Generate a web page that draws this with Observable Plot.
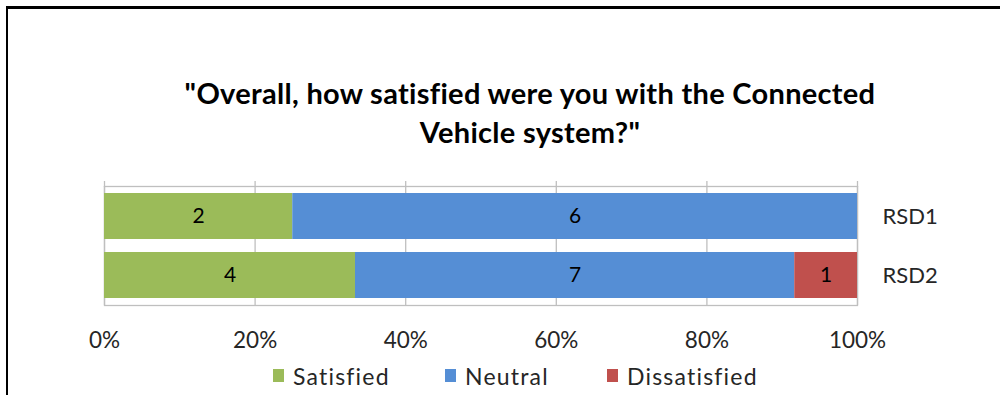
<!DOCTYPE html>
<html>
<head>
<meta charset="utf-8">
<script src="https://cdn.jsdelivr.net/npm/d3@7"></script>
<script src="https://cdn.jsdelivr.net/npm/@observablehq/plot@0.6"></script>
<style>
  html, body { margin: 0; padding: 0; background: #fff; }
  #wrap { position: relative; width: 1000px; height: 395px; overflow: hidden; font-family: Lato, "Open Sans", sans-serif; }
  #frameTop { position: absolute; left: 6px; top: 6px; width: 1000px; height: 3px; background: #000; }
  #frameLeft { position: absolute; left: 6px; top: 6px; width: 2px; height: 400px; background: #000; }
  #title { position: absolute; left: 80px; width: 900px; top: 72.5px; text-align: center; font-weight: bold; font-size: 29px; letter-spacing: 0.3px; line-height: 39px; color: #000; }
  #legend { position: absolute; top: 361.5px; left: 0; width: 1000px; height: 28px; font-size: 23px; letter-spacing: 1.2px; color: #262626; }
  .li { position: absolute; top: 0; display: flex; align-items: center; height: 28px; white-space: nowrap; }
  .sw { width: 11px; height: 13px; margin-right: 9px; }
  #chart { position: absolute; left: 0; top: 0; }
</style>
</head>
<body>
<div id="wrap">
  <div id="chart"></div>
  <div id="frameTop"></div>
  <div id="frameLeft"></div>
  <div id="title">"Overall, how satisfied were you with the Connected<br>Vehicle system?"</div>
  <div id="legend"></div>
</div>
<script>
const groups = ["RSD1", "RSD2"];
const categories = ["Satisfied", "Neutral", "Dissatisfied"];
const colors = ["#9BBB59", "#558ED5", "#C0504D"];
const satisfied = [2, 4];
const neutral = [6, 7];
const dissatisfied = [0, 1];
const xTicks = [0, 0.2, 0.4, 0.6, 0.8, 1];
const legendX = [273, 445, 607];

const series = [satisfied, neutral, dissatisfied];
const data = [];
groups.forEach((g, gi) => {
  categories.forEach((c, ci) => {
    data.push({group: g, category: c, count: series[ci][gi]});
  });
});
const shown = data.filter(d => d.count > 0);

const chart = Plot.plot({
  width: 1000,
  height: 395,
  marginLeft: 104,
  marginRight: 143,
  marginTop: 186,
  marginBottom: 90,
  style: {fontFamily: "Lato, 'Open Sans', sans-serif", background: "transparent"},
  x: {domain: [0, 1]},
  y: {domain: groups, paddingInner: 0.22, paddingOuter: 0.11},
  color: {domain: categories, range: colors},
  marks: [
    Plot.ruleX(xTicks, {stroke: "#bfbfbf", strokeWidth: 1.3}),
    Plot.frame({stroke: "#bfbfbf", strokeWidth: 1.3}),
    Plot.barX(data, Plot.stackX({x: "count", y: "group", fill: "category", offset: "normalize", order: categories})),
    Plot.text(shown, Plot.stackX({x: "count", y: "group", z: "category", offset: "normalize", order: categories, text: d => String(d.count), fontSize: 21, fill: "#000"})),
    Plot.axisX(xTicks, {anchor: "top", tickSize: 6, stroke: "#bfbfbf", strokeWidth: 1.3, label: null, tickFormat: () => ""}),
    Plot.axisX(xTicks, {anchor: "bottom", tickSize: 0, tickPadding: 27, fontSize: 22.5, fill: "#262626", label: null, tickFormat: d => Math.round(d * 100) + "%"}),
    Plot.axisY({anchor: "right", tickSize: 0, tickPadding: 25, fontSize: 22, fill: "#262626", label: null})
  ]
});
document.getElementById("chart").appendChild(chart);

const legend = document.getElementById("legend");
categories.forEach((c, i) => {
  const item = document.createElement("div");
  item.className = "li";
  item.style.left = legendX[i] + "px";
  const sw = document.createElement("div");
  sw.className = "sw";
  sw.style.background = colors[i];
  const tx = document.createElement("span");
  tx.textContent = c;
  item.appendChild(sw);
  item.appendChild(tx);
  legend.appendChild(item);
});
</script>
</body>
</html>
